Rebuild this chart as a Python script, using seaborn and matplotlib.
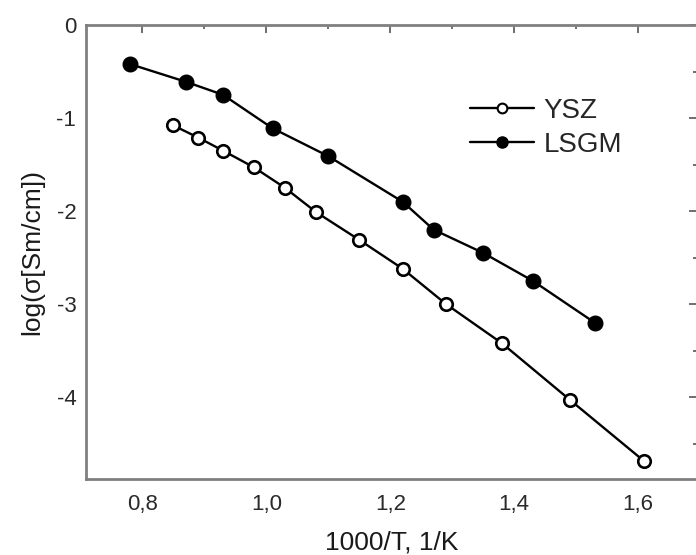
import numpy as np
import pandas as pd
import seaborn as sns
import matplotlib
matplotlib.use("Agg")
import matplotlib.pyplot as plt
from matplotlib.lines import Line2D
from matplotlib.ticker import MultipleLocator, FuncFormatter

# Conductivity vs inverse temperature
ysz_x = [0.85, 0.89, 0.93, 0.98, 1.03, 1.08, 1.15, 1.22, 1.29, 1.38, 1.49, 1.61]
ysz_y = [-1.08, -1.21, -1.35, -1.53, -1.75, -2.01, -2.31, -2.62, -3.00, -3.42, -4.03, -4.69]
lsgm_x = [0.78, 0.87, 0.93, 1.01, 1.10, 1.22, 1.27, 1.35, 1.43, 1.53]
lsgm_y = [-0.42, -0.61, -0.75, -1.11, -1.41, -1.90, -2.20, -2.45, -2.75, -3.20]
series_names = ["YSZ", "LSGM"]

sns.set_theme(style="white")
plt.rcParams["font.family"] = ["Liberation Sans", "DejaVu Sans"]

fig = plt.figure(figsize=(6.96, 5.55), dpi=100)
W, H = 696, 555
ax = fig.add_axes([86 / W, 1 - 479 / H, (697 - 86) / W, (479 - 25) / H])

df_ysz = pd.DataFrame({"x": ysz_x, "y": ysz_y})
df_lsgm = pd.DataFrame({"x": lsgm_x, "y": lsgm_y})

sns.lineplot(data=df_lsgm, x="x", y="y", ax=ax, color="black", lw=1.7,
             marker="o", markersize=10.5, markerfacecolor="black",
             markeredgecolor="black", markeredgewidth=1.0, sort=False)
sns.lineplot(data=df_ysz, x="x", y="y", ax=ax, color="black", lw=1.7,
             marker="o", markersize=9, markerfacecolor="white",
             markeredgecolor="black", markeredgewidth=1.9, sort=False)

ax.set_xlim(0.709, 1.695)
ax.set_ylim(-4.88, 0)

ax.xaxis.set_major_locator(MultipleLocator(0.2))
ax.xaxis.set_minor_locator(MultipleLocator(0.1))
ax.yaxis.set_major_locator(MultipleLocator(1))
ax.yaxis.set_minor_locator(MultipleLocator(0.5))
ax.xaxis.set_major_formatter(FuncFormatter(lambda v, p: f"{v:.1f}".replace(".", ",")))
ax.yaxis.set_major_formatter(FuncFormatter(lambda v, p: f"{v:.0f}"))

spine_col = "#808080"
for s in ax.spines.values():
    s.set_color(spine_col)
    s.set_linewidth(2.0)
    s.set_visible(True)

ax.tick_params(which="both", direction="in", top=True, right=True,
               color="#555555", width=1.2, labelsize=16, labelcolor="#2a2a2a")
ax.tick_params(which="major", length=6)
ax.tick_params(which="minor", length=3)
ax.tick_params(axis="x", which="major", pad=11)
ax.tick_params(axis="y", which="major", pad=7)

ax.set_xlabel("1000/T, 1/K", fontsize=19, color="#1a1a1a", labelpad=11)
ax.set_ylabel("log(σ[Sm/cm])", fontsize=19, color="#1a1a1a", labelpad=9)

handles = [
    Line2D([], [], color="black", lw=1.7, marker="o", markersize=7,
           markerfacecolor="white", markeredgecolor="black", markeredgewidth=1.5),
    Line2D([], [], color="black", lw=1.7, marker="o", markersize=8,
           markerfacecolor="black", markeredgecolor="black"),
]
ax.legend(handles, series_names, loc="upper left", bbox_to_anchor=(0.628, 0.84),
          frameon=False, fontsize=20, handlelength=2.3, handletextpad=0.35,
          labelspacing=0.3, borderpad=0, borderaxespad=0)

fig.savefig("out.png", dpi=100)
